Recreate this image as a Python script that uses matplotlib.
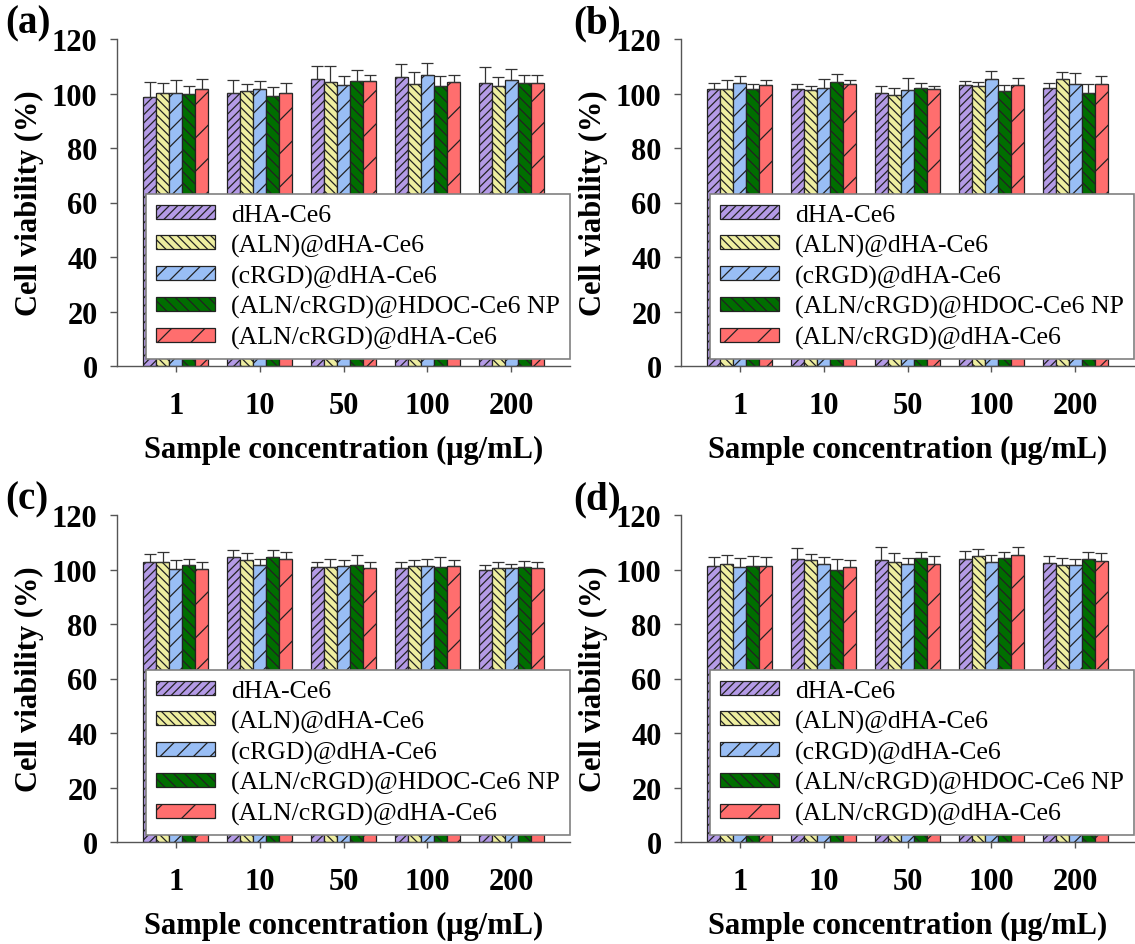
import numpy as np
import matplotlib
matplotlib.use('Agg')
import matplotlib.pyplot as plt

plt.rcParams['font.family'] = ['Liberation Serif', 'DejaVu Serif']
plt.rcParams['hatch.linewidth'] = 0.9

# данные
groups = ['1', '10', '50', '100', '200']
series = ['dHA-Ce6', '(ALN)@dHA-Ce6', '(cRGD)@dHA-Ce6',
          '(ALN/cRGD)@HDOC-Ce6 NP', '(ALN/cRGD)@dHA-Ce6']
colors = ['#B49BE6', '#EEEEA0', '#99BEF5', '#006E00', '#FF6E6E']
hatches = ['////', '\\\\\\\\', '//', '\\\\\\', '/']
panel_labels = ['(a)', '(b)', '(c)', '(d)']

a_mean = [[98.7, 100.2, 105.4, 105.9, 103.8],
          [100.1, 101.1, 104.3, 103.5, 102.8],
          [100.2, 101.7, 103.2, 106.7, 104.9],
          [99.8, 99.1, 104.6, 102.8, 103.9],
          [101.5, 100.2, 104.5, 104.3, 103.9]]
a_err = [[5.6, 4.7, 4.8, 5.1, 5.8],
         [3.6, 2.3, 5.8, 4.3, 3.1],
         [4.8, 2.8, 3.1, 4.6, 4.0],
         [2.9, 3.3, 3.9, 3.5, 2.8],
         [3.7, 3.7, 2.3, 2.5, 2.9]]

b_mean = [[101.8, 101.5, 100.2, 103.2, 102.0],
          [101.5, 101.2, 99.3, 102.9, 105.5],
          [103.7, 102.2, 101.3, 105.5, 103.4],
          [101.5, 104.3, 102.0, 100.9, 100.2],
          [103.2, 103.5, 101.6, 103.1, 103.4]]
b_err = [[2.1, 1.9, 2.6, 1.3, 1.9],
         [3.4, 1.4, 2.8, 1.4, 2.3],
         [2.8, 3.1, 4.3, 2.8, 4.2],
         [1.9, 2.9, 2.0, 2.1, 3.2],
         [1.8, 1.5, 1.2, 2.7, 3.1]]

c_mean = [[102.7, 104.5, 101.1, 100.6, 99.8],
          [102.9, 103.4, 101.1, 101.3, 100.4],
          [100.2, 101.7, 101.2, 101.2, 100.4],
          [101.7, 104.6, 101.5, 100.8, 100.8],
          [100.2, 103.8, 100.6, 101.3, 100.4]]
c_err = [[2.9, 2.7, 1.6, 2.1, 1.9],
         [3.4, 2.7, 2.7, 2.2, 2.4],
         [3.2, 2.3, 2.3, 2.6, 1.6],
         [2.2, 2.5, 3.7, 3.8, 2.4],
         [2.6, 2.6, 2.3, 2.2, 2.4]]

d_mean = [[101.3, 103.9, 103.4, 103.7, 102.5],
          [102.0, 103.4, 102.8, 104.9, 101.6],
          [101.1, 101.9, 101.9, 102.8, 101.6],
          [101.3, 100.0, 104.2, 104.1, 103.7],
          [101.3, 101.1, 101.9, 105.4, 103.3]]
d_err = [[3.2, 4.1, 4.7, 3.2, 2.4],
         [3.2, 2.3, 3.2, 2.7, 2.5],
         [3.1, 2.6, 2.2, 2.5, 2.1],
         [3.5, 3.7, 2.3, 2.4, 2.8],
         [3.3, 2.5, 3.0, 3.0, 2.8]]

means = [a_mean, b_mean, c_mean, d_mean]
errs = [a_err, b_err, c_err, d_err]

fig = plt.figure(figsize=(11.35, 9.45), dpi=100)

# позиции осей в пикселях (левый край, низ), потом в доли фигуры
W, H = 1135, 945
boxes = [(117, 367), (681, 367), (117, 843), (681, 843)]
ax_w, ax_h = 453, 327

x = np.arange(len(groups))
bw = 0.156

for k in range(4):
    left, bottom = boxes[k]
    ax = fig.add_axes([left / W, 1 - bottom / H, ax_w / W, ax_h / H])
    for i in range(len(series)):
        m = np.array(means[k][i])
        e = np.array(errs[k][i])
        pos = x + (i - 2) * bw
        ax.bar(pos, m, bw, color=colors[i], edgecolor='#222222', linewidth=0.9,
               hatch=hatches[i], label=series[i], zorder=2)
        ax.errorbar(pos, m, yerr=[np.zeros_like(e), e], fmt='none',
                    ecolor='#333333', elinewidth=0.9, capsize=4, capthick=0.9, zorder=3)

    ax.set_xlim(-0.7, 4.7)
    ax.set_ylim(0, 120)
    ax.set_yticks(np.arange(0, 121, 20))
    ax.set_xticks(x)
    ax.set_xticklabels(groups)
    for s in ['top', 'right']:
        ax.spines[s].set_visible(False)
    for s in ['left', 'bottom']:
        ax.spines[s].set_color('#555555')
        ax.spines[s].set_linewidth(1.0)
    ax.tick_params(axis='y', direction='out', length=5, width=1, color='#555555',
                   pad=9, labelsize=22)
    ax.tick_params(axis='x', direction='out', length=4, width=1, color='#555555',
                   pad=14, labelsize=22)
    for lbl in ax.get_xticklabels() + ax.get_yticklabels():
        lbl.set_fontweight('bold')

    ax.set_ylabel('Cell viability (%)', fontsize=22, fontweight='bold', labelpad=6)
    ax.set_xlabel('Sample concentration (\u03bcg/mL)', fontsize=22,
                  fontweight='bold', labelpad=11)

    leg = ax.legend(loc='lower left', bbox_to_anchor=(0.064, 0.02, 0.936, 0.5),
                    mode='expand', borderaxespad=0, fontsize=18.5, frameon=True,
                    fancybox=False, framealpha=1, edgecolor='#808080',
                    handlelength=2.3, handleheight=0.45, handletextpad=0.6,
                    labelspacing=0.3, borderpad=0.4)
    leg.get_frame().set_linewidth(1.2)
    leg.set_zorder(5)

    # подпись панели: центр ~24 px от верха блока
    fig.text((left - 112 + (4 if k % 2 else 0)) / W, 1 - (bottom - 327 - 16) / H,
             panel_labels[k], fontsize=28, fontweight='bold', ha='left', va='center')

fig.savefig('out.png', dpi=100)
